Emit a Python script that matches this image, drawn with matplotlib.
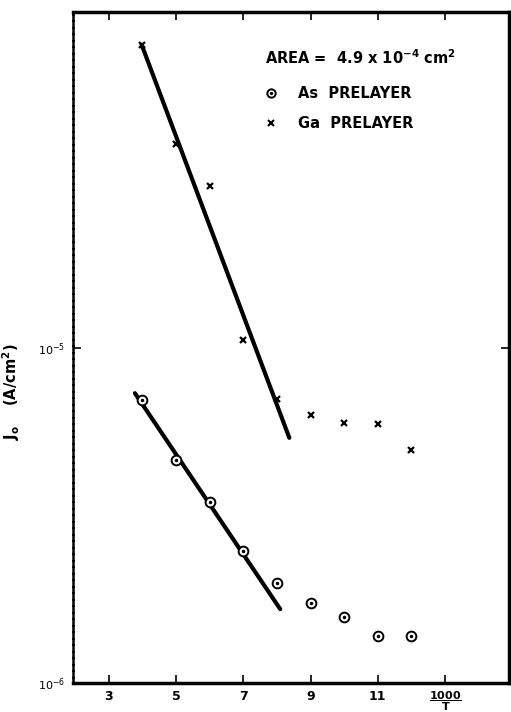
import matplotlib
matplotlib.use("Agg")
import matplotlib.pyplot as plt

# Data
x_as = [4, 5, 6, 7, 8, 9, 10, 11, 12]
j_as = [6.98e-6, 4.63e-6, 3.47e-6, 2.48e-6, 1.98e-6, 1.73e-6, 1.57e-6, 1.38e-6, 1.38e-6]
x_ga = [4, 5, 6, 7, 8, 9, 10, 11, 12]
j_ga = [8.0e-5, 4.05e-5, 3.03e-5, 1.05e-5, 7.0e-6, 6.3e-6, 5.97e-6, 5.9e-6, 4.95e-6]
# fitted straight lines (end points)
fit_as_x = [3.78, 8.10]
fit_as_y = [7.31e-6, 1.66e-6]
fit_ga_x = [3.98, 8.37]
fit_ga_y = [7.99e-5, 5.38e-6]

xticks = [3, 5, 7, 9, 11, 13]
xtick_labels = ["3", "5", "7", "9", "11", ""]
xaxis_title = r"$\dfrac{\mathbf{1000}}{\mathbf{T}}$"
yticks = [1e-6, 1e-5]
ytick_labels = [r"$10^{-6}$", r"$10^{-5}$"]

fig = plt.figure(figsize=(5.11, 7.12), dpi=100)
ax = fig.add_axes([73/511, 1-683/712, (509-73)/511, (683-12)/712])
ax.set_yscale("log")
ax.set_xlim(1.94, 14.9)
ax.set_ylim(1e-6, 1e-4)

ax.plot(fit_ga_x, fit_ga_y, color="black", lw=3.0, solid_capstyle="round")
ax.plot(fit_as_x, fit_as_y, color="black", lw=3.0, solid_capstyle="round")
ax.plot(x_ga, j_ga, linestyle="none", marker="x", color="black", ms=5, mew=1.6)
ax.plot(x_as, j_as, linestyle="none", marker="o", mfc="white", mec="black", ms=7, mew=1.4)
ax.plot(x_as, j_as, linestyle="none", marker="o", color="black", ms=1.5)

ax.set_xticks(xticks)
ax.set_xticklabels(xtick_labels, fontsize=9, fontweight="bold")
ax.set_yticks(yticks)
ax.set_yticklabels(ytick_labels, fontsize=8)
ax.yaxis.set_minor_locator(matplotlib.ticker.NullLocator())
ax.tick_params(direction="in", length=6, width=1.2, top=True, right=True, pad=6)
ax.tick_params(axis="x", pad=5)

ax.annotate(xaxis_title, xy=(xticks[-1], 0), xycoords=("data", "axes fraction"),
            xytext=(0, -5), textcoords="offset points", ha="center", va="top",
            fontsize=8, annotation_clip=False)

for s in ["bottom", "top", "right"]:
    ax.spines[s].set_linewidth(2.5)
ax.spines["left"].set_linewidth(1.8)
ax.spines["left"].set_linestyle((0, (2, 0.6)))

ax.set_ylabel(r"$\mathbf{J_o}$    (A/cm$^{\mathbf{2}}$)", fontsize=10.5, fontweight="bold")
ax.yaxis.set_label_coords((22 - 73) / 436, (683 - 392) / 671)

fig_h = 712
ax.text(265, fig_h - 58, r"AREA =  4.9 x 10$^{\mathbf{-4}}$ cm$^{\mathbf{2}}$", transform=None,
        fontsize=10.5, fontweight="bold", va="center", ha="left")
# legend entries
lx, ly1, ly2 = 271, 93, 123
l1 = ax.plot([lx], [fig_h - ly1], transform=None, marker="o", mfc="white", mec="black", ms=6, mew=1.4)
l2 = ax.plot([lx], [fig_h - ly1], transform=None, marker="o", color="black", ms=1.4)
l3 = ax.plot([lx], [fig_h - ly2], transform=None, marker="x", color="black", ms=5, mew=1.5)
ax.text(298, fig_h - ly1, "As  PRELAYER", transform=None, fontsize=10.5, fontweight="bold", va="center")
ax.text(298, fig_h - ly2, "Ga  PRELAYER", transform=None, fontsize=10.5, fontweight="bold", va="center")
for a in l1 + l2 + l3:
    a.set_clip_on(False)

fig.savefig("out.png", dpi=100)
